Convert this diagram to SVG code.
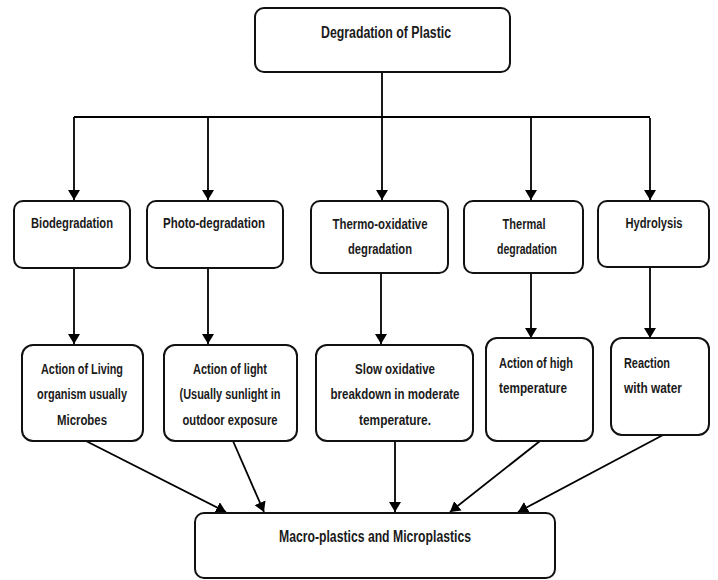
<svg xmlns="http://www.w3.org/2000/svg" width="718" height="580" viewBox="0 0 718 580">
<defs>
<marker id="ah" markerWidth="10" markerHeight="12" refX="10" refY="6" orient="auto" markerUnits="userSpaceOnUse">
<path d="M0,0 L10,6 L0,12 z" fill="#000"/>
</marker>
<style>
.box{fill:#fff;stroke:#111;stroke-width:2}
.t{font-family:"Liberation Sans",Arial,sans-serif;font-weight:bold;font-size:14px;fill:#1a1a1a;text-anchor:middle}
.tl{text-anchor:start}
.big{font-size:16px}
.c{stroke:#000;stroke-width:1.8;fill:none}
.ca{stroke:#000;stroke-width:1.8;fill:none;marker-end:url(#ah)}
</style>
</defs>
<rect width="718" height="580" fill="#fff"/>
<g id="connectors">
<path class="c" d="M382,72 V118"/>
<path class="c" d="M74,117 H650"/>
<path class="ca" d="M74,117 V200"/>
<path class="ca" d="M208,118 V200"/>
<path class="ca" d="M382,118 V200"/>
<path class="ca" d="M531,118 V200"/>
<path class="ca" d="M650,118 V200"/>
<path class="ca" d="M74,268 V344"/>
<path class="ca" d="M208,268 V344"/>
<path class="ca" d="M381,273 V344"/>
<path class="ca" d="M531,273 V338"/>
<path class="ca" d="M650,267 V338"/>
<path class="ca" d="M86,441 L226,512"/>
<path class="ca" d="M233,441 L264,512"/>
<path class="ca" d="M395,441 V512"/>
<path class="ca" d="M540,441 L450,512"/>
<path class="ca" d="M663,435 L518,512"/>
</g>
<g id="n-top">
<rect class="box" x="255" y="8" width="255" height="64" rx="9"/>
<text class="t big" x="386" y="38" textLength="130" lengthAdjust="spacingAndGlyphs">Degradation of Plastic</text>
</g>
<g id="n-bio">
<rect class="box" x="14" y="201" width="116" height="67" rx="9"/>
<text class="t" x="72" y="228" textLength="82" lengthAdjust="spacingAndGlyphs">Biodegradation</text>
</g>
<g id="n-photo">
<rect class="box" x="147" y="201" width="136" height="67" rx="9"/>
<text class="t" x="214" y="228" textLength="102" lengthAdjust="spacingAndGlyphs">Photo-degradation</text>
</g>
<g id="n-thermoox">
<rect class="box" x="311" y="201" width="137" height="72" rx="9"/>
<text class="t" x="380" y="229" textLength="95" lengthAdjust="spacingAndGlyphs">Thermo-oxidative</text>
<text class="t" x="380" y="254" textLength="64" lengthAdjust="spacingAndGlyphs">degradation</text>
</g>
<g id="n-thermal">
<rect class="box" x="464" y="201" width="119" height="72" rx="9"/>
<text class="t" x="524" y="229" textLength="43" lengthAdjust="spacingAndGlyphs">Thermal</text>
<text class="t" x="527" y="254" textLength="60" lengthAdjust="spacingAndGlyphs">degradation</text>
</g>
<g id="n-hydro">
<rect class="box" x="598" y="201" width="111" height="66" rx="9"/>
<text class="t" x="654" y="228" textLength="57" lengthAdjust="spacingAndGlyphs">Hydrolysis</text>
</g>
<g id="n-living">
<rect class="box" x="22" y="345" width="121" height="96" rx="11"/>
<text class="t" x="82" y="374" textLength="82" lengthAdjust="spacingAndGlyphs">Action of Living</text>
<text class="t" x="82" y="399" textLength="90" lengthAdjust="spacingAndGlyphs">organism usually</text>
<text class="t" x="82" y="425" textLength="50" lengthAdjust="spacingAndGlyphs">Microbes</text>
</g>
<g id="n-light">
<rect class="box" x="164" y="345" width="133" height="96" rx="11"/>
<text class="t" x="230" y="374" textLength="74" lengthAdjust="spacingAndGlyphs">Action of light</text>
<text class="t" x="230" y="399" textLength="101" lengthAdjust="spacingAndGlyphs">(Usually sunlight in</text>
<text class="t" x="230" y="425" textLength="95" lengthAdjust="spacingAndGlyphs">outdoor exposure</text>
</g>
<g id="n-slow">
<rect class="box" x="316" y="345" width="157" height="96" rx="11"/>
<text class="t" x="395" y="374" textLength="80" lengthAdjust="spacingAndGlyphs">Slow oxidative</text>
<text class="t" x="395" y="399" textLength="129" lengthAdjust="spacingAndGlyphs">breakdown in moderate</text>
<text class="t" x="395" y="425" textLength="72" lengthAdjust="spacingAndGlyphs">temperature.</text>
</g>
<g id="n-high">
<rect class="box" x="486" y="338" width="107" height="103" rx="11"/>
<text class="t tl" x="499" y="368" textLength="74" lengthAdjust="spacingAndGlyphs">Action of high</text>
<text class="t tl" x="499" y="393" textLength="68" lengthAdjust="spacingAndGlyphs">temperature</text>
</g>
<g id="n-water">
<rect class="box" x="611" y="338" width="98" height="97" rx="11"/>
<text class="t tl" x="624" y="368" textLength="46" lengthAdjust="spacingAndGlyphs">Reaction</text>
<text class="t tl" x="624" y="393" textLength="58" lengthAdjust="spacingAndGlyphs">with water</text>
</g>
<g id="n-macro">
<rect class="box" x="195" y="513" width="360" height="65" rx="9"/>
<text class="t big" x="375" y="542" textLength="192" lengthAdjust="spacingAndGlyphs">Macro-plastics and Microplastics</text>
</g>
</svg>
